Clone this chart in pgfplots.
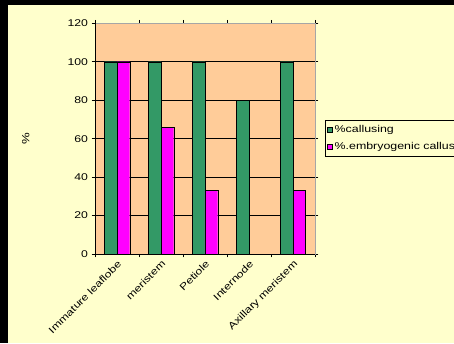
\documentclass[border=0pt]{standalone}
\usepackage{pgfplots}
\pgfplotsset{compat=1.18}
\usepackage{fontspec}
\setmainfont{Liberation Sans}[FakeStretch=1.25]
\definecolor{bgy}{HTML}{FFFFCC}
\definecolor{peach}{HTML}{FFCC99}
\definecolor{cgreen}{HTML}{339966}
\definecolor{cmag}{HTML}{FF00FF}
\begin{document}
\begin{tikzpicture}[x=1pt,y=1pt]
\useasboundingbox (0,0) rectangle (454,343);
\clip (0,0) rectangle (454,343);
\fill[black] (0,0) rectangle (454,343);
\fill[bgy] (8.3,0) rectangle (454,338);
\begin{axis}[
  at={(95pt,89pt)}, anchor=south west, scale only axis,
  width=220pt, height=230.7pt,
  ybar=0pt, bar width=12.7pt,
  xmin=-0.5, xmax=4.5, ymin=0, ymax=120,
  xtick={0,...,4},
  xticklabels={Immature leaflobe,meristem,Petiole,Internode,Axillary meristem},
  minor xtick={-0.5,0.5,...,4.5},
  major x tick style={draw=none},
  ytick={0,20,...,120},
  /pgf/number format/assume math mode=true,
  tick align=outside, major tick length=3.3pt, minor tick length=3.3pt,
  tick style={black, line width=0.6pt},
  ymajorgrids, major grid style={black, line width=0.6pt},
  axis background/.style={fill=peach},
  axis line style={draw=gray!70},
  ylabel={\%}, ylabel style={at={(axis description cs:-0.315,0.5)}, anchor=center, font=\fontsize{10.5}{11}\selectfont},
  xticklabel style={rotate=45, anchor=north east, font=\fontsize{9.8}{11}\selectfont, inner sep=1.5pt},
  yticklabel style={font=\fontsize{9.8}{11}\selectfont, inner sep=3.5pt},
  legend style={at={(axis description cs:1.045,0.581)}, anchor=north west, fill=bgy, draw=black,
    font=\fontsize{9.9}{11}\selectfont, row sep=4.5pt, inner ysep=3.3pt, inner xsep=2pt},
  legend cell align=left,
  legend image code/.code={\draw[#1, draw=black, line width=0.4pt] (0pt,-2.6pt) rectangle (5.2pt,2.6pt);},
]
\addplot[fill=cgreen, draw=black, line width=0.4pt] coordinates {(0,100) (1,100) (2,100) (3,80) (4,100)};
\addplot[fill=cmag, draw=black, line width=0.4pt] coordinates {(0,100) (1,66) (2,33) (3,0) (4,33)};
\legend{\%callusing, \%.embryogenic callus}
\draw[black, line width=0.6pt] (rel axis cs:0,1) -- (rel axis cs:0,0) -- (rel axis cs:1,0);
\end{axis}
\end{tikzpicture}
\end{document}
